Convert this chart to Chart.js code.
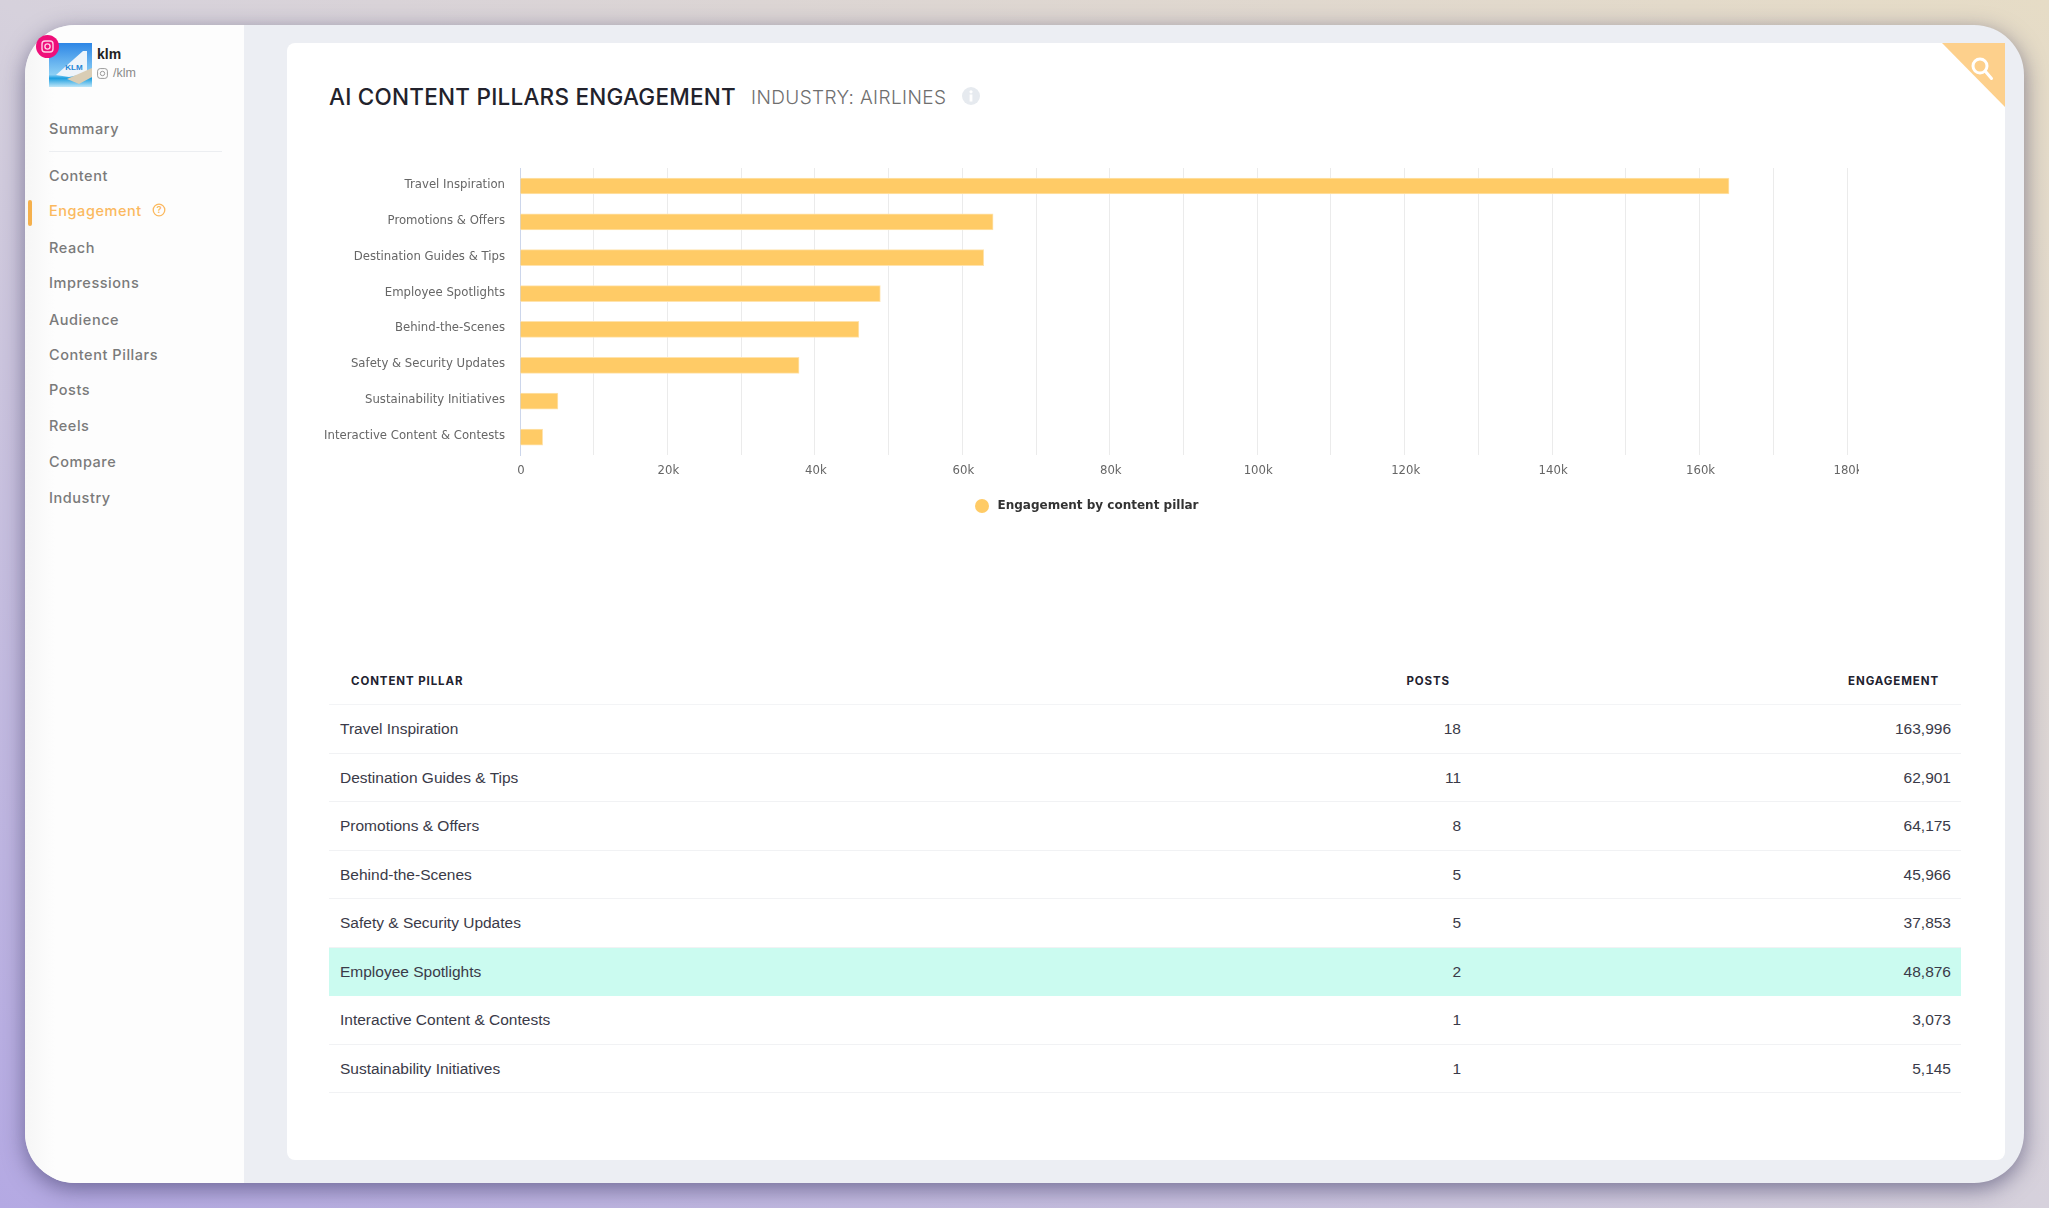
<!DOCTYPE html>
<html>
<head>
<meta charset="utf-8">
<title>AI Content Pillars Engagement</title>
<script src="https://cdn.jsdelivr.net/npm/chart.js@4"></script>
<style>
    html, body { margin: 0; padding: 0; }
    body {
        width: 2049px; height: 1208px; position: relative; overflow: hidden;
        background: linear-gradient(to top right, #b4a9e3 0%, #d6d1dc 50%, #e6dcc6 100%);
        font-family: "Liberation Sans", sans-serif;
    }
    .window {
        position: absolute; left: 25px; top: 25px; width: 1999px; height: 1158px;
        background: #eceef3; border-radius: 50px; box-shadow: 0 6px 22px rgba(50, 45, 90, .55);
    }
    .sidebar {
        position: absolute; left: 25px; top: 25px; width: 219px; height: 1158px;
        border-radius: 50px 0 0 50px;
        background: linear-gradient(to right, #f6f6f6 0, #fdfdfd 30px, #fdfdfd 100%);
    }
    .nav {
        position: absolute; left: 49px; font: 500 14.5px Inter, sans-serif; color: #7a7a7a;
        letter-spacing: .55px; transform: translateY(-50%); white-space: nowrap;
    }
    .nav.active { color: #fbb95f; }
    .divider { position: absolute; left: 49px; top: 151px; width: 173px; height: 1px; background: #eceef1; }
    .marker { position: absolute; left: 28px; top: 200px; width: 4px; height: 26px; border-radius: 2px; background: #f5b04c; }
    .card { position: absolute; left: 287px; top: 43px; width: 1718px; height: 1117px; background: #fff; border-radius: 8px; }
    .corner { position: absolute; left: 1942px; top: 43px; }
    .title { position: absolute; left: 329px; top: 96px; transform: translateY(-50%); font: 500 22.5px Inter, sans-serif; letter-spacing: .24px; color: #22222c; white-space: nowrap; }
    .subtitle { position: absolute; left: 751px; top: 97px; transform: translateY(-50%); font: 300 19px Inter, sans-serif; letter-spacing: .4px; color: #6f6f6f; white-space: nowrap; }
    #engagementChart { position: absolute; left: 312px; top: 146px; }
    table { position: absolute; left: 329px; top: 658px; width: 1632px; border-collapse: collapse; table-layout: fixed; }
    th { height: 46px; padding: 0; font: 700 11.5px Inter, sans-serif; color: #22222f; letter-spacing: .9px; border-bottom: 1px solid #f3f4f6; }
    td { height: 46.5px; padding: 1px 0 0; font-size: 15.5px; color: #3a3a48; border-bottom: 1px solid #f1f2f4; }
    .c1 { text-align: left; padding-left: 11px; }
    th.c1 { padding-left: 22px; }
    .c2 { text-align: right; padding-right: 30px; }
    th.c2 { padding-right: 41px; }
    .c3 { text-align: right; padding-right: 10px; }
    th.c3 { padding-right: 22px; }
    tr.highlight td { background: #cbfbf0; border-bottom-color: #cbfbf0; }
    .klm { position: absolute; left: 97px; top: 54px; transform: translateY(-50%); font: 700 14px "Liberation Sans", sans-serif; color: #222; }
    .handle { position: absolute; left: 113px; top: 73px; transform: translateY(-50%); font-size: 12.5px; color: #8a8a8a; }
    svg { position: absolute; }
</style>
</head>
<body>
<div class="window"></div>
<div class="sidebar"></div>
<div class="card"></div>

<svg style="left:49px;top:43px" width="43" height="44" viewBox="0 0 43 44">
    <defs><linearGradient id="sky" x1="0" y1="0" x2="0" y2="1">
        <stop offset="0" stop-color="#2d86e6"/><stop offset=".72" stop-color="#8cd0f5"/><stop offset=".8" stop-color="#1c9ee0"/><stop offset="1" stop-color="#bfe6f8"/>
    </linearGradient></defs>
    <rect width="43" height="44" fill="url(#sky)"/>
    <path d="M7 32 L34 8 L38 8 L38 30 L20 34 Z" fill="#eef4fa"/>
    <path d="M18 36 L43 25 L43 34 L30 41 Z" fill="#d9cdb5"/>
    <text x="25" y="27" font-size="8" font-family="Liberation Sans" font-weight="700" text-anchor="middle" fill="#1f86d6">KLM</text>
</svg>
<svg style="left:36px;top:35px" width="23" height="23" viewBox="0 0 23 23">
    <circle cx="11.5" cy="11.5" r="11.5" fill="#ef0f7a"/>
    <rect x="6" y="6" width="11" height="11" rx="3" fill="none" stroke="#ffd0e6" stroke-width="1.4"/>
    <circle cx="11.5" cy="11.5" r="2.6" fill="none" stroke="#ffd0e6" stroke-width="1.4"/>
</svg>
<div class="klm">klm</div>
<svg style="left:97px;top:68px" width="11" height="11" viewBox="0 0 11 11">
    <rect x=".6" y=".6" width="9.8" height="9.8" rx="2.6" fill="none" stroke="#9a9a9a"/>
    <circle cx="5.5" cy="5.5" r="2.2" fill="none" stroke="#9a9a9a"/>
</svg>
<div class="handle">/klm</div>
<div class="divider"></div>
<div class="marker"></div>
<svg style="left:152px;top:203px" width="14" height="14" viewBox="0 0 14 14">
    <circle cx="7" cy="7" r="5.8" fill="none" stroke="#fbb95f" stroke-width="1.3"/>
    <text x="7" y="10.4" font-size="9.5" font-family="Inter" font-weight="600" text-anchor="middle" fill="#fbb95f">?</text>
</svg>

<div class="title">AI CONTENT PILLARS ENGAGEMENT</div>
<div class="subtitle">INDUSTRY: AIRLINES</div>
<svg style="left:962px;top:87px" width="18" height="18" viewBox="0 0 18 18">
    <circle cx="9" cy="9" r="9" fill="#e6eaef"/>
    <rect x="7.6" y="7.5" width="2.8" height="7" fill="#fff"/>
    <circle cx="9" cy="4.8" r="1.6" fill="#fff"/>
</svg>
<svg class="corner" width="63" height="64" viewBox="0 0 63 64">
    <path d="M0 0 L63 0 L63 64 Z" fill="#fdd08c"/>
    <circle cx="38" cy="23" r="7" fill="none" stroke="#fff" stroke-width="3"/>
    <line x1="43.5" y1="28.5" x2="49.5" y2="35.5" stroke="#fff" stroke-width="3" stroke-linecap="round"/>
</svg>

<canvas id="engagementChart" width="1547" height="376"></canvas>
<table id="pillarTable"></table>

<script>
// Chart data, in chart order
const pillars = ["Travel Inspiration", "Promotions & Offers", "Destination Guides & Tips", "Employee Spotlights",
    "Behind-the-Scenes", "Safety & Security Updates", "Sustainability Initiatives", "Interactive Content & Contests"];
const engagement = [163996, 64175, 62901, 48876, 45966, 37853, 5145, 3073];
const seriesName = "Engagement by content pillar";

// Table data, in table order
const tablePillars = ["Travel Inspiration", "Destination Guides & Tips", "Promotions & Offers", "Behind-the-Scenes",
    "Safety & Security Updates", "Employee Spotlights", "Interactive Content & Contests", "Sustainability Initiatives"];
const tablePosts = [18, 11, 8, 5, 5, 2, 1, 1];
const tableEngagement = ["163,996", "62,901", "64,175", "45,966", "37,853", "48,876", "3,073", "5,145"];
const highlightedPillar = "Employee Spotlights";

// Sidebar
const navItems = ["Summary", "Content", "Engagement", "Reach", "Impressions", "Audience", "Content Pillars", "Posts", "Reels", "Compare", "Industry"];
const navCenters = [128, 175, 210, 247, 282, 319, 354, 389, 425, 461, 497];

document.addEventListener("DOMContentLoaded", function () {
    renderNav();
    renderTable();
    renderChart();
});

function renderNav() {
    navItems.forEach((item, i) => {
        const el = document.createElement("div");
        el.className = item === "Engagement" ? "nav active" : "nav";
        el.style.top = navCenters[i] + "px";
        el.textContent = item;
        document.body.appendChild(el);
    });
}

function renderTable() {
    let html = `
        <colgroup><col style="width:600px"><col style="width:562px"><col></colgroup>
        <tr><th class="c1">CONTENT PILLAR</th><th class="c2">POSTS</th><th class="c3">ENGAGEMENT</th></tr>
    `;
    tablePillars.forEach((pillar, i) => {
        const rowClass = pillar === highlightedPillar ? "highlight" : "";
        html += `<tr class="${rowClass}"><td class="c1">${pillar.replace("&", "&amp;")}</td><td class="c2">${tablePosts[i]}</td><td class="c3">${tableEngagement[i]}</td></tr>`;
    });
    document.getElementById("pillarTable").innerHTML = html;
}

// Small round legend marker, so the gap to the legend text can be set with pointStyleWidth
function legendDot(color) {
    const dot = document.createElement("canvas");
    dot.width = 14;
    dot.height = 14;
    const dotCtx = dot.getContext("2d");
    dotCtx.fillStyle = color;
    dotCtx.arc(7, 7, 7, 0, Math.PI * 2);
    dotCtx.fill();
    return dot;
}

function renderChart() {
    const ctx = document.getElementById("engagementChart").getContext("2d");
    const tickFont = { family: "'DejaVu Sans'", size: 11.7 };

    new Chart(ctx, {
        type: "bar",
        data: {
            labels: pillars,
            datasets: [{
                label: seriesName,
                data: engagement,
                backgroundColor: "#ffcb66",
                borderColor: "#ffe3ad",
                borderWidth: 1,
                barThickness: 16,
            }]
        },
        options: {
            indexAxis: "y",
            responsive: false,
            animation: false,
            layout: { padding: { top: 5 } },
            plugins: {
                legend: {
                    position: "bottom",
                    labels: {
                        usePointStyle: true,
                        pointStyle: legendDot("#ffcb66"),
                        pointStyleWidth: 19,
                        boxHeight: 12,
                        padding: 10,
                        color: "#333333",
                        font: { family: "'DejaVu Sans'", size: 12, weight: "bold" }
                    }
                }
            },
            scales: {
                x: {
                    min: 0,
                    max: 180000,
                    border: { display: false },
                    grid: { color: "#ebebeb", drawTicks: false },
                    ticks: {
                        stepSize: 10000,
                        autoSkip: false,
                        maxRotation: 0,
                        padding: 9,
                        labelOffset: 1,
                        color: "#666666",
                        font: tickFont,
                        // Gridlines every 10k, labels every 20k
                        callback: value => value === 0 ? "0" : (value % 20000 === 0 ? value / 1000 + "k" : "")
                    },
                    afterFit: scale => {
                        scale.height = 35;
                        scale.paddingRight = 12; // the last label runs off the canvas like in the original
                    }
                },
                y: {
                    border: { color: "#ccd6eb" },
                    grid: { display: false, drawTicks: false },
                    ticks: { padding: 15, labelOffset: -1, color: "#666666", font: tickFont },
                    afterFit: scale => { scale.width = 208; }
                }
            }
        }
    });
}
</script>
</body>
</html>
